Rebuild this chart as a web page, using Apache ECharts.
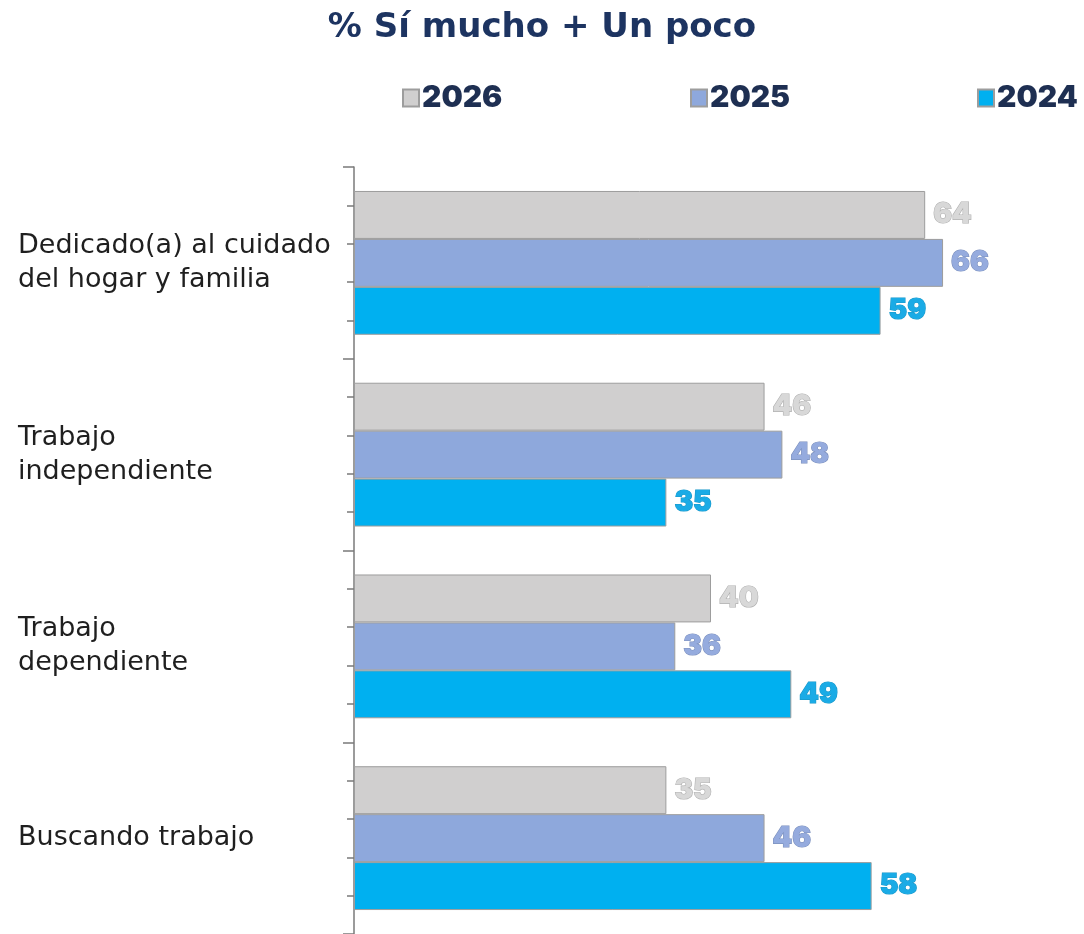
<!DOCTYPE html>
<html><head><meta charset="utf-8">
<script src="https://cdn.jsdelivr.net/npm/echarts@6/dist/echarts.min.js"></script>
<style>html,body{margin:0;padding:0;background:#fff}#c{width:1084px;height:934px}</style>
</head><body><div id="c"></div>
<script>
const categories = ["Dedicado(a) al cuidado\ndel hogar y familia", "Trabajo\nindependiente", "Trabajo\ndependiente", "Buscando trabajo"];
const seriesNames = ["2026", "2025", "2024"];
const values2026 = [64, 46, 40, 35];
const values2025 = [66, 48, 36, 46];
const values2024 = [59, 35, 49, 58];
const titleText = "% Sí mucho + Un poco";

const fills = ["#d0cfcf", "#8ea8dc", "#00b0f0"];
const labelFill = ["#d8d8d8", "#95abde", "#1aabe6"];
const labelStroke = ["#b0b0b0", "#7c90bd", "#1a98c9"];
const allValues = [values2026, values2025, values2024];

const chart = echarts.init(document.getElementById('c'));
const series = seriesNames.map((n, i) => ({
  name: n, type: 'bar', yAxisIndex: 0, data: allValues[i],
  barGap: '0%', barCategoryGap: '25%',
  itemStyle: { color: fills[i], borderColor: '#9d9d9d', borderWidth: 1 },
  label: {
    show: true, position: 'right', distance: 8,
    fontFamily: 'Inter', fontWeight: 900, fontSize: 28,
    color: labelFill[i], textBorderColor: labelStroke[i], textBorderWidth: 1.2
  }
}));
const legendLefts = [397, 685, 972];
const legends = seriesNames.map((n, i) => ({
  data: [{ name: n, icon: 'rect' }], left: legendLefts[i], top: 78, itemWidth: 16, itemHeight: 17, itemGap: 0,
  textStyle: { fontFamily: 'Inter', fontWeight: 900, fontSize: 30, color: '#1e2f52', padding: [0, 0, 0, -2] },
  selectedMode: false
}));
chart.setOption({
  animation: false,
  title: { text: titleText, left: 'center', top: 6,
    textStyle: { fontFamily: 'DejaVu Sans', fontWeight: 'bold', fontSize: 34, color: '#1d3461' } },
  legend: legends,
  grid: { left: 354, right: 16, top: 167, bottom: 0, containLabel: false },
  xAxis: { type: 'value', min: 0, max: 80, show: false },
  yAxis: [{
    type: 'category', data: categories, inverse: true,
    axisLine: { show: true, lineStyle: { color: '#7a7a7a', width: 1.5 } },
    axisTick: { show: true, length: 11, lineStyle: { color: '#7a7a7a', width: 1.5 } },
    axisLabel: { align: 'left', margin: 336, fontFamily: 'DejaVu Sans', fontSize: 27, color: '#1f1f1f', lineHeight: 34, padding: [4, 0, 0, 0] }
  }, {
    type: 'value', min: 0, max: 20, interval: 1, inverse: true, position: 'left',
    axisLine: { show: false }, splitLine: { show: false }, axisLabel: { show: false },
    axisTick: { show: true, length: 7, lineStyle: { color: '#7a7a7a', width: 1.5 } }
  }],
  series: series
});
</script></body></html>
